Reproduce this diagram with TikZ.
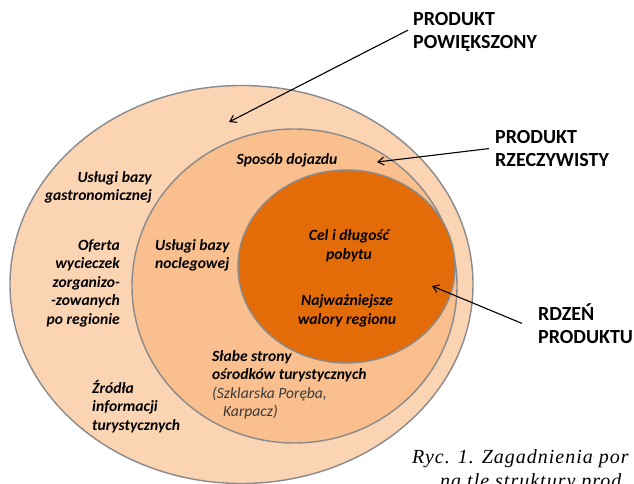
\documentclass[tikz,border=0pt]{standalone}
\usepackage{fontspec}
\usepackage{tikz}
\usetikzlibrary{shapes.geometric,arrows.meta}
\setmainfont{Carlito}
\newfontfamily\captionserif[LetterSpace=5]{Liberation Serif}
\definecolor{ringouter}{HTML}{FBD4B4}
\definecolor{ringmiddle}{HTML}{F9BF8F}
\definecolor{ringcore}{HTML}{E36C09}
\definecolor{ringline}{HTML}{8A8A8A}
\definecolor{notegray}{HTML}{3A3A3A}

\begin{document}
\begin{tikzpicture}[x=1pt,y=-1pt,
  ring/.style={ellipse, draw=ringline, line width=1.4pt, inner sep=0pt},
  topic/.style={font=\fontsize{15.6}{18.6}\selectfont\bfseries\itshape,
                text=black, inner sep=0pt},
  layer/.style={font=\fontsize{20}{23.5}\selectfont\bfseries,
                align=left, anchor=north west, inner sep=2pt},
  pointer/.style={-{Straight Barb[length=6pt,width=8pt]}, line width=1.1pt}]
\useasboundingbox (0,0) rectangle (634,484);

% the three layers of the product
\node[ring, fill=ringouter, minimum width=463pt, minimum height=398pt]
  (outer) at (241.5,284.5) {};
\node[ring, fill=ringmiddle, minimum width=325pt, minimum height=314pt]
  (middle) at (294.5,286) {};
\node[ring, fill=ringcore, minimum width=217pt, minimum height=193pt]
  (core) at (346.5,266.5) {};

% outer ring
\node[topic, align=right, anchor=north east] (gastro) at (152,171)
  {Usługi bazy\\gastronomicznej};
\node[topic, align=right, anchor=north east] (oferta) at (120,239)
  {Oferta\\wycieczek\\zorganizo-\\-zowanych\\po regionie};
\node[topic, align=left, anchor=north west] (zrodla) at (92,380)
  {Źródła\\informacji\\turystycznych};

% middle ring
\node[topic, anchor=base] (dojazd) at (287,164) {Sposób dojazdu};
\node[topic, align=left, anchor=north west] (nocleg) at (155,239)
  {Usługi bazy\\noclegowej};
\node[topic, align=left, anchor=north west] (slabe) at (212,350)
  {Słabe strony\\ośrodków turystycznych\\
   {\mdseries\color{notegray}(Szklarska Poręba,}\\
   {\mdseries\color{notegray}\hspace{11pt}Karpacz)}};

% core
\node[topic, align=center] (cel) at (349,246) {Cel i długość\\pobytu};
\node[topic, align=center] (walory) at (347,311) {Najważniejsze\\walory regionu};

% layer names
\node[layer] (powiek) at (411,10) {PRODUKT\\POWIĘKSZONY};
\node[layer] (rzecz) at (493,128) {PRODUKT\\RZECZYWISTY};
\node[layer] (rdzen) at (536,301) {RDZEŃ\\PRODUKTU};

\coordinate (tipA) at (229,122);
\coordinate (tipB) at (377,162);
\coordinate (tipC) at (432,286);
\draw[pointer] ([xshift=-3pt,yshift=2pt]powiek.west) -- (tipA);
\draw[pointer] ([xshift=-4pt]rzecz.west) -- (tipB);
\draw[pointer] ([xshift=-14pt]rdzen.west) -- (tipC);

% caption, cut off by the page edge
\node[font=\fontsize{20}{23}\selectfont\captionserif\itshape, anchor=base west,
      inner sep=0pt] (ryc) at (412,463) {Ryc. 1. Zagadnienia por};
\node[font=\fontsize{20}{23}\selectfont\captionserif\itshape, anchor=base west,
      inner sep=0pt] (ryc2) at (440,487) {na tle struktury prod};
\end{tikzpicture}
\end{document}
